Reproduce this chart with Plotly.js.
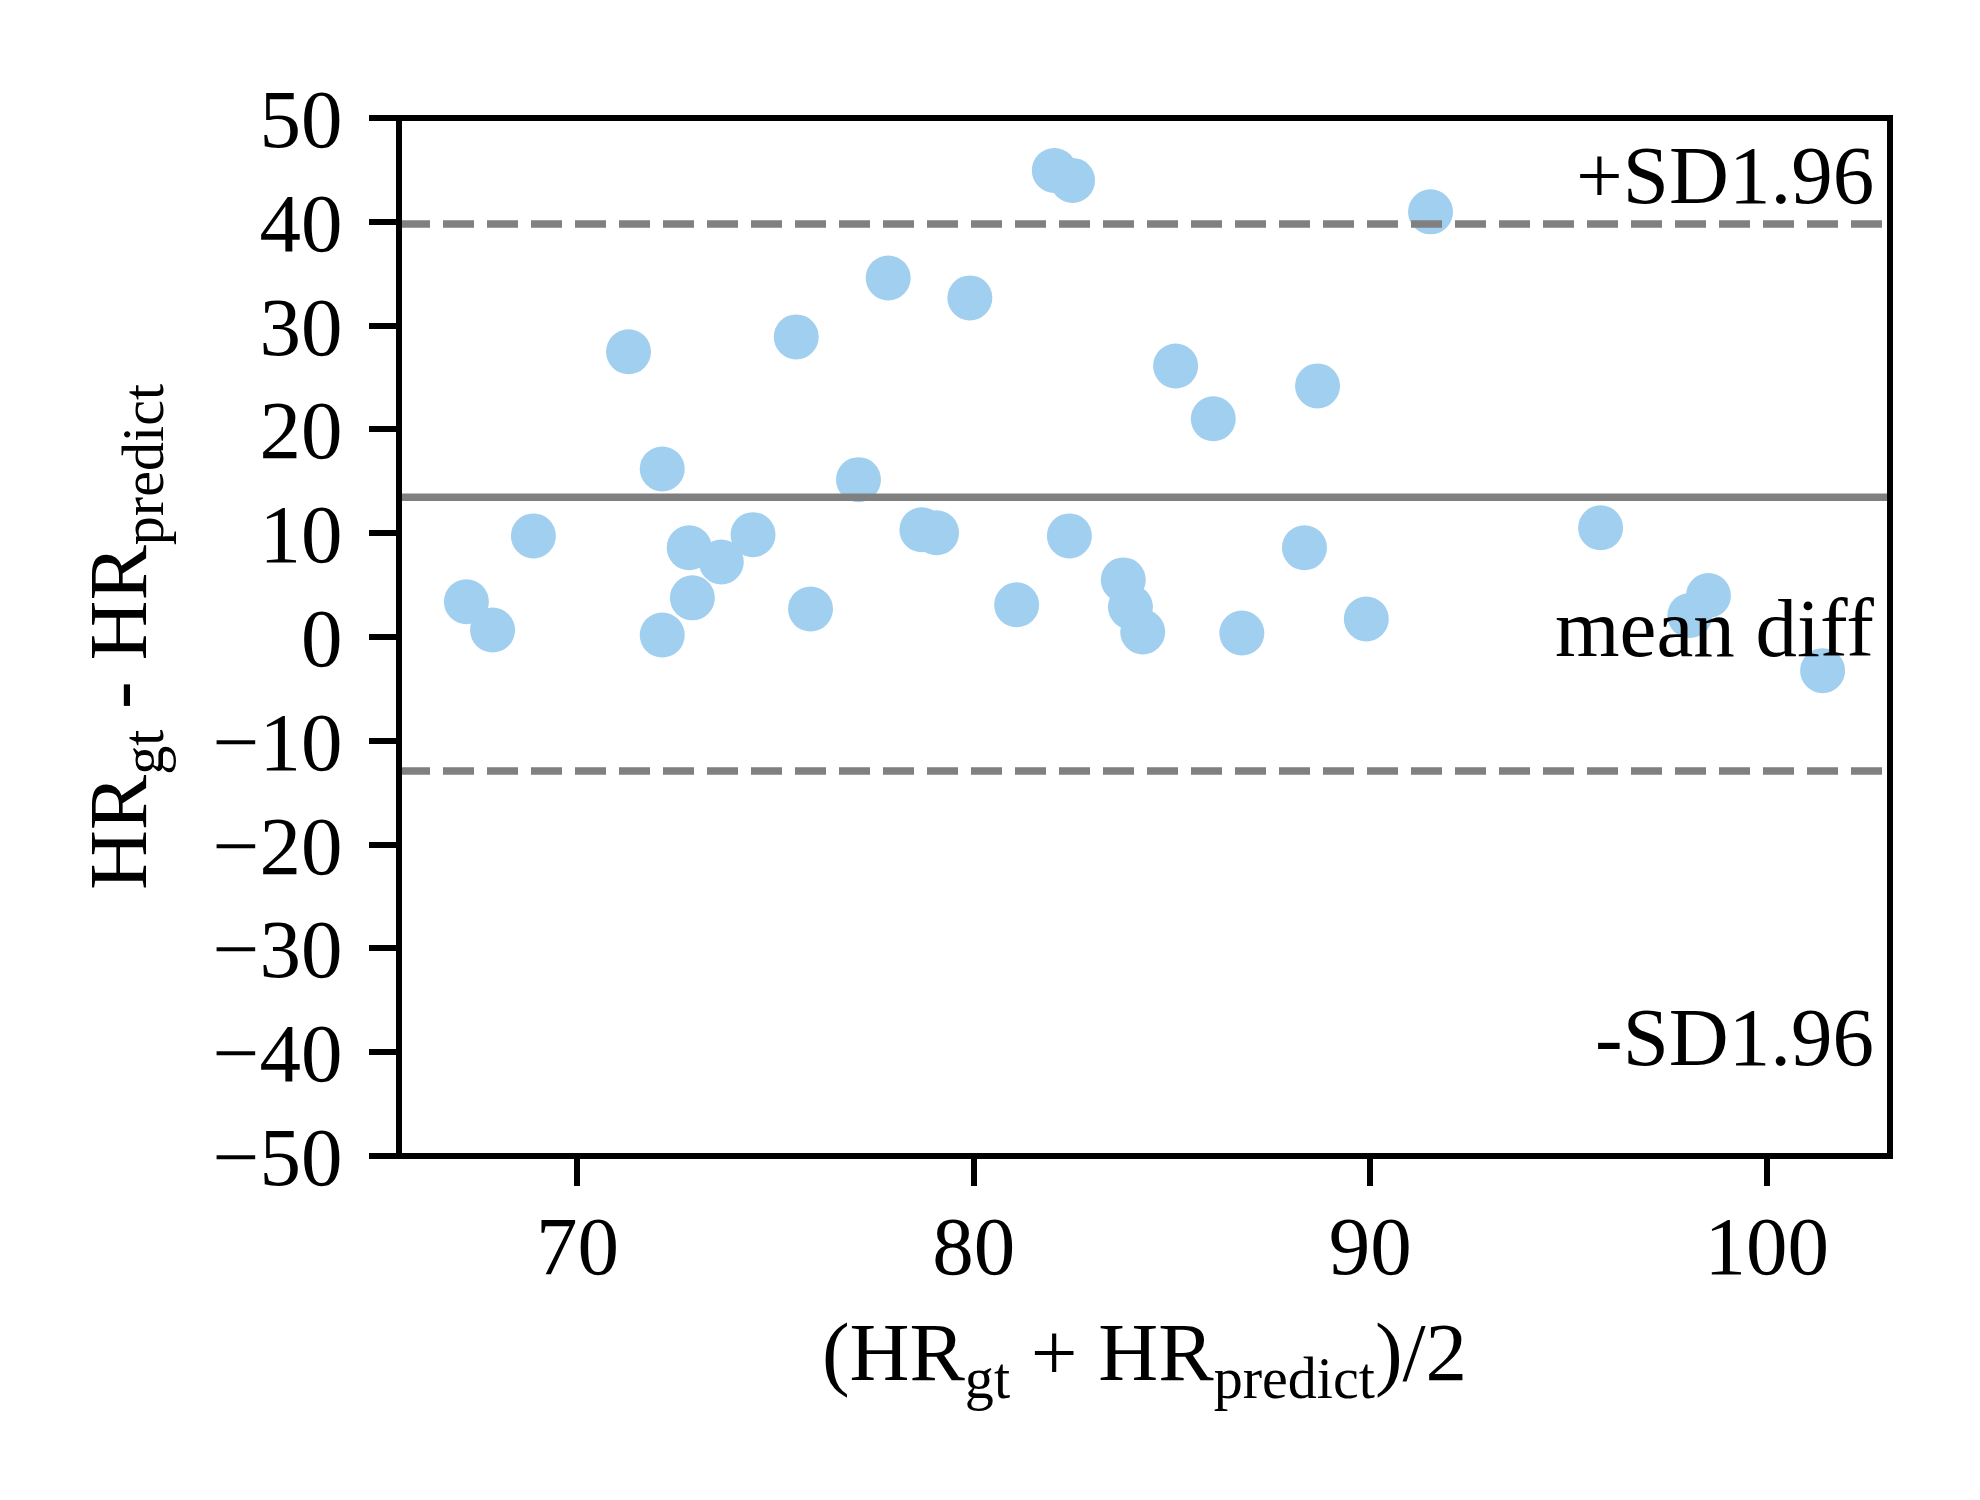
<!DOCTYPE html>
<html>
<head>
<meta charset="utf-8">
<script src="https://cdn.plot.ly/plotly-3.0.1.min.js"></script>
<style>html,body{margin:0;padding:0;background:#fff;}#chart{width:1980px;height:1500px;}</style>
</head>
<body>
<div id="chart"></div>
<script>
// Bland-Altman data: mean of the two measurements (x) and their difference (y)
const meanHR = [67.20, 67.86, 68.89, 71.29, 72.14, 72.14, 72.82, 72.90, 73.63, 74.43,
                75.52, 75.88, 77.09, 77.84, 78.69, 79.06, 79.90, 81.08, 82.03, 82.49,
                82.41, 83.77, 83.95, 84.26, 85.09, 86.04, 86.76, 88.34, 88.67, 89.90,
                91.52, 95.81, 98.06, 98.53, 101.41];
const diffHR = [3.40, 0.67, 9.74, 27.48, 16.19, 0.19, 8.60, 3.77, 7.23, 9.86,
                28.91, 2.70, 15.16, 34.59, 10.33, 10.04, 32.67, 3.10, 44.95, 43.99,
                9.74, 5.50, 2.89, 0.49, 26.11, 21.02, 0.38, 8.60, 24.19, 1.74,
                40.96, 10.52, 2.07, 3.99, -3.24];
const meanDiff = 13.46;
const upperLimit = 39.8;   // mean + 1.96 SD
const lowerLimit = -12.9;  // mean - 1.96 SD
const labelTexts = ['+SD1.96', 'mean diff', '-SD1.96'];
const labelY = [40.0, -3.7, -43.1];

const FONT = 'Liberation Serif, Times New Roman, serif';
const GRAY = '#808080';
const FS = 83;

const trace = {
  x: meanHR, y: diffHR, type: 'scatter', mode: 'markers',
  marker: {size: 45, color: '#a0cfef', line: {width: 0}},
  hoverinfo: 'x+y', showlegend: false
};

function hline(y, dash) {
  return {type: 'line', xref: 'paper', x0: 0, x1: 1, yref: 'y', y0: y, y1: y,
          line: {color: GRAY, width: 7.5, dash: dash}, layer: 'above'};
}
const frame = {type: 'rect', xref: 'paper', yref: 'paper', x0: 0, x1: 1, y0: 0, y1: 1,
               line: {color: '#000', width: 6}, fillcolor: 'rgba(0,0,0,0)', layer: 'above'};

const annotations = labelTexts.map((t, i) => ({
  text: t, xref: 'paper', x: 0.99, xanchor: 'right', yref: 'y', y: labelY[i], yanchor: 'bottom',
  showarrow: false, font: {family: FONT, size: FS, color: '#000'}, borderpad: 0
}));

const axisCommon = {
  showline: false,
  ticks: 'outside', ticklen: 29, tickwidth: 6, tickcolor: '#000',
  showgrid: false, zeroline: false,
  tickfont: {family: FONT, size: FS, color: '#000'}
};

const layout = {
  width: 1980, height: 1500,
  margin: {l: 399, r: 90, t: 118, b: 344, pad: 0},
  paper_bgcolor: '#fff', plot_bgcolor: '#fff',
  font: {family: FONT, size: FS, color: '#000'},
  xaxis: Object.assign({}, axisCommon, {
    range: [65.5, 103.11], dtick: 10, tick0: 0, ticklabelstandoff: -12,
    title: {text: '(HR<sub>gt</sub> + HR<sub>predict</sub>)/2', font: {family: FONT, size: FS, color: '#000'}, standoff: 31}
  }),
  yaxis: Object.assign({}, axisCommon, {
    range: [-50, 50], dtick: 10, tick0: 0, ticklabelstandoff: 10,
    title: {text: 'HR<sub>gt</sub> - HR<sub>predict</sub>', font: {family: FONT, size: FS, color: '#000'}, standoff: 38}
  }),
  shapes: [hline(meanDiff, 'solid'), hline(upperLimit, '31px,13px'), hline(lowerLimit, '31px,13px'), frame],
  annotations: annotations
};

Plotly.newPlot('chart', [trace], layout, {displayModeBar: false, staticPlot: true});
</script>
</body>
</html>
